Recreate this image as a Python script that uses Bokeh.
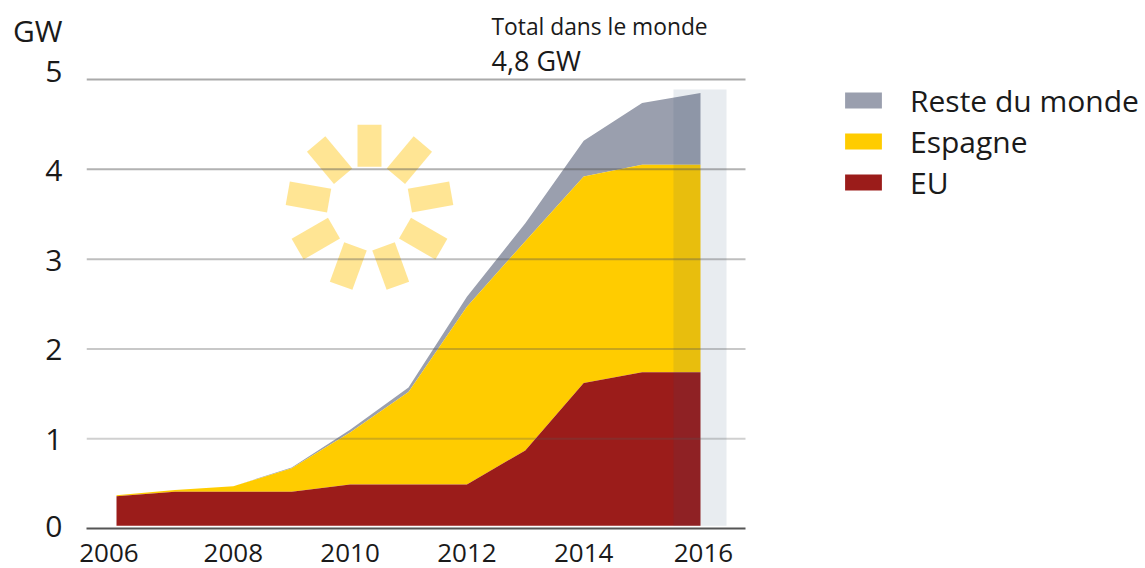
import math
from bokeh.plotting import figure
from bokeh.models import ColumnDataSource, Legend, LegendItem, Label, FixedTicker, Range1d
from bokeh.embed import file_html
from bokeh.resources import INLINE

years = [2006, 2007, 2008, 2009, 2010, 2011, 2012, 2013, 2014, 2015, 2016]
eu = [0.36, 0.41, 0.41, 0.41, 0.49, 0.49, 0.49, 0.87, 1.62, 1.74, 1.74]
espagne_top = [0.37, 0.43, 0.47, 0.67, 1.07, 1.52, 2.47, 3.20, 3.92, 4.05, 4.05]
total_top = [0.37, 0.43, 0.47, 0.68, 1.10, 1.57, 2.58, 3.40, 4.32, 4.74, 4.85]
area_base = [0.03] * len(years)
# tick labels sit where the reference prints them (end labels drift slightly)
x_label_pos = [2005.87, 2008, 2010, 2012, 2014, 2016.05]
x_labels = ["2006", "2008", "2010", "2012", "2014", "2016"]
y_label_pos = [0.03, 1, 2, 3, 4, 5.1, 5.55]
y_labels = ["0", "1", "2", "3", "4", "5", "GW"]
grid_values = [1, 2, 3, 4, 5]
grid_alpha = [0.28, 0.32, 0.38, 0.45, 0.5]
series_names = ["Reste du monde", "Espagne", "EU"]
colors = ["#9a9fae", "#ffcc00", "#9b1c1a"]
FONT = "Open Sans"
TEXT = "#1a1a1a"

X0, X1 = 116, 700
PX_YEAR = (X1 - X0) / 10
PX_GW = 89.7
W, H = 1145, 568
FRAME_L, FRAME_B = 86, 527.5
AXIS_END = 745

def year_at(px):
    return 2006 + (px - X0) / PX_YEAR

def gw_at(py):
    return (FRAME_B - py) / PX_GW

p = figure(width=W, height=H, output_backend="svg", toolbar_location=None,
           x_range=Range1d(year_at(FRAME_L), year_at(W)),
           y_range=Range1d(0, gw_at(0)),
           min_border_left=FRAME_L, min_border_right=0,
           min_border_top=0, min_border_bottom=int(H - FRAME_B),
           outline_line_color=None, background_fill_color=None, border_fill_color=None)

p.xgrid.visible = False
p.ygrid.visible = False

p.xaxis.ticker = FixedTicker(ticks=x_label_pos)
p.xaxis.major_label_overrides = dict(zip(x_label_pos, x_labels))
p.yaxis.ticker = FixedTicker(ticks=y_label_pos)
p.yaxis.major_label_overrides = dict(zip(y_label_pos, y_labels))
p.xaxis.bounds = (year_at(FRAME_L), year_at(AXIS_END))
p.xaxis.axis_line_color = "#555555"
p.xaxis.axis_line_width = 2
p.yaxis.axis_line_color = None
for ax in (p.xaxis[0], p.yaxis[0]):
    ax.major_tick_line_color = None
    ax.minor_tick_line_color = None
    ax.major_label_text_font = FONT
    ax.major_label_text_color = TEXT
p.xaxis.major_label_text_font_size = "26px"
p.yaxis.major_label_text_font_size = "30px"
p.xaxis.major_label_standoff = 9
p.yaxis.major_label_standoff = 18

src = ColumnDataSource(dict(x=years, base=area_base, eu=eu, esp=espagne_top, tot=total_top))
r_tot = p.varea(x="x", y1="esp", y2="tot", source=src, fill_color=colors[0])
r_esp = p.varea(x="x", y1="eu", y2="esp", source=src, fill_color=colors[1])
r_eu = p.varea(x="x", y1="base", y2="eu", source=src, fill_color=colors[2])

# sun
cx, cy = year_at(369), gw_at(207)
angles = [90, 50, 10, -30, -70, -110, -150, 170, 130]
sx = [cx + 62 * math.cos(math.radians(a)) / PX_YEAR for a in angles]
sy = [cy + 62 * math.sin(math.radians(a)) / PX_GW for a in angles]
p.rect(x=sx, y=sy, width=42, height=24, width_units="screen", height_units="screen",
       angle=[math.radians(a) for a in angles], fill_color="#ffc000", fill_alpha=0.42, line_color=None)

# highlight band around the last year
p.quad(left=[year_at(673)], right=[year_at(726)], bottom=[area_base[0]], top=[gw_at(89)],
       fill_color="#2f4f75", fill_alpha=0.11, line_color=None)

# horizontal rules show through the chart
p.segment(x0=[year_at(FRAME_L)] * len(grid_values), x1=[year_at(AXIS_END)] * len(grid_values),
          y0=grid_values, y1=grid_values, line_color="#555555", line_alpha=grid_alpha, line_width=2)

# texts
def lab(text, px, py, size):
    p.add_layout(Label(x=px - FRAME_L, y=FRAME_B - py, x_units="screen", y_units="screen", text=text,
                       text_font=FONT, text_font_size=size, text_color=TEXT,
                       text_baseline="middle", text_align="left"))

lab("Total dans le monde", 491, 25, "22.8px")
lab("4,8 GW", 491, 59, "27px")

legend = Legend(items=[LegendItem(label=n, renderers=[r]) for n, r in zip(series_names, [r_tot, r_esp, r_eu])],
                location=(840 - FRAME_L, FRAME_B - 202), orientation="vertical",
                background_fill_alpha=0, border_line_color=None,
                glyph_width=46, glyph_height=20, label_standoff=24, spacing=0,
                label_text_font=FONT, label_text_font_size="30px", label_text_color=TEXT,
                margin=0, padding=10)
p.add_layout(legend)

open("out.html", "w").write(file_html(p, INLINE))
